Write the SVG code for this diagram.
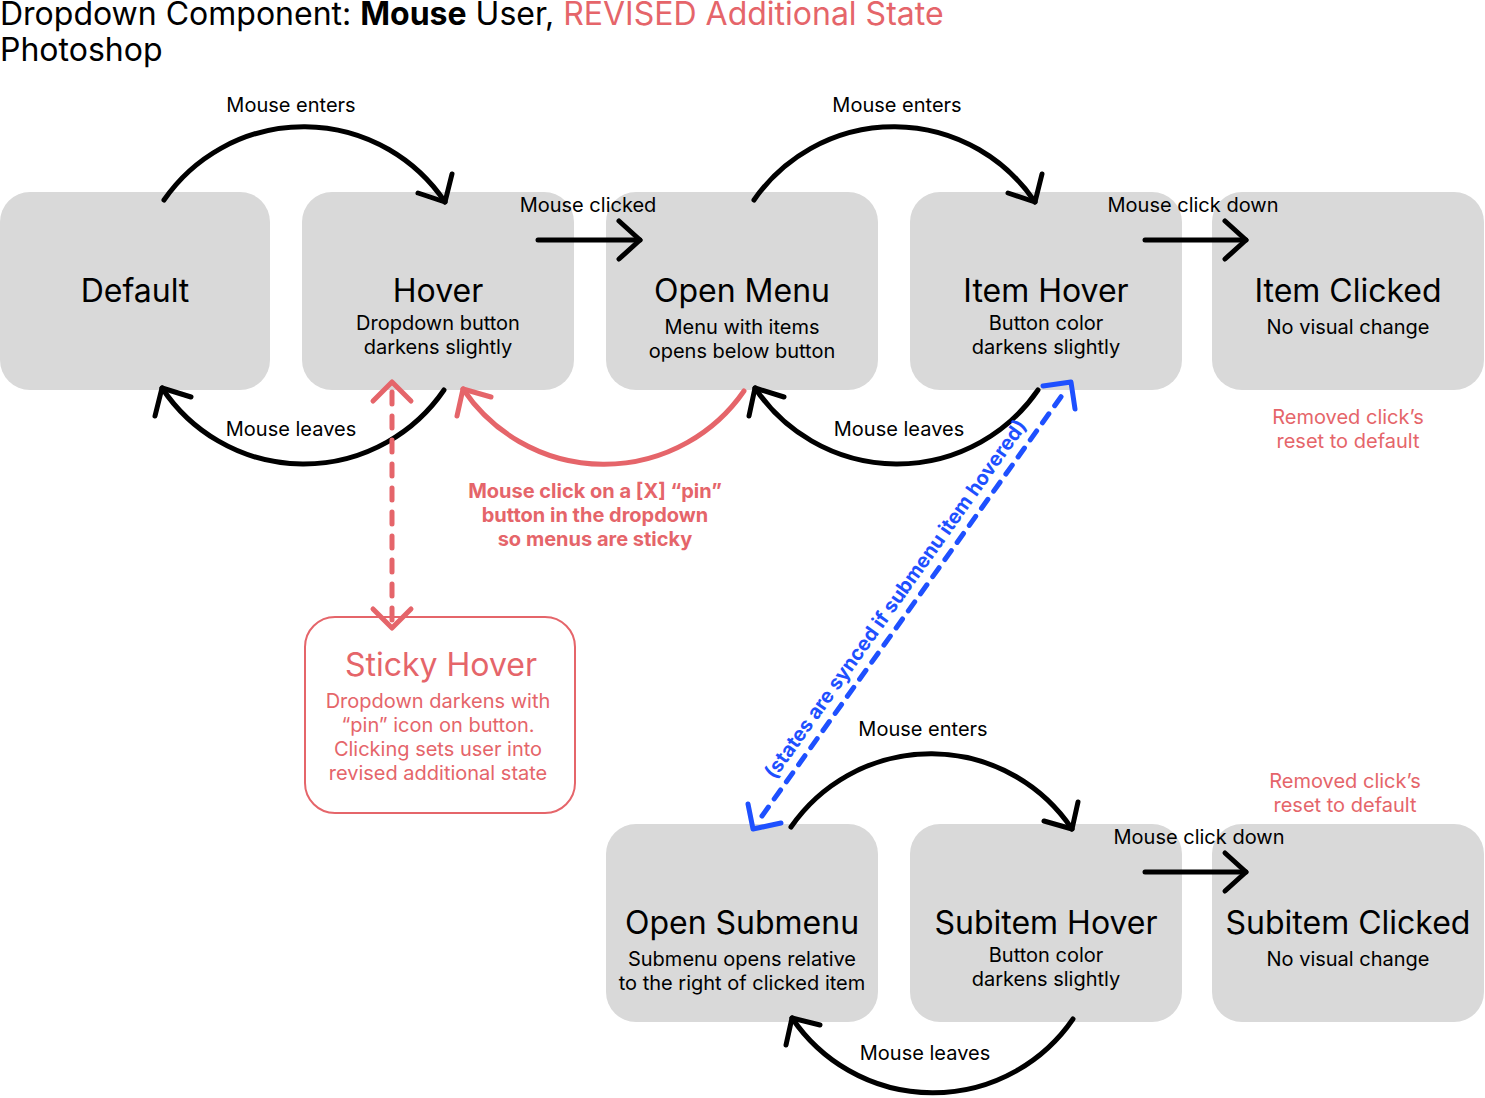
<svg xmlns="http://www.w3.org/2000/svg" width="1485" height="1098" viewBox="0 0 1485 1098">
<style>
text{font-family:Inter,"Liberation Sans","Noto Sans",sans-serif;fill:#000}
.box{fill:#D9D9D9}
.t{font-size:32px;text-anchor:middle}
.s{font-size:20px;text-anchor:middle}
.lbl{font-size:20px;text-anchor:middle}
.red{fill:#E5656A}
.blk{fill:none;stroke:#000;stroke-width:5;stroke-linecap:round;stroke-linejoin:round}
.rd{fill:none;stroke:#E5656A;stroke-width:5;stroke-linecap:round;stroke-linejoin:round}
.bl{fill:none;stroke:#1E50FF;stroke-width:5;stroke-linecap:round;stroke-linejoin:round}
</style>
<rect width="1485" height="1098" fill="#fff"/>
<g id="title">
<text x="0" y="25" style="font-size:32px">Dropdown Component: <tspan font-weight="700">Mouse</tspan> User, <tspan class="red">REVISED Additional State</tspan></text>
<text x="0" y="61" style="font-size:32px">Photoshop</text>
</g>
<g id="node-default"><rect class="box" x="0" y="192" width="270" height="198" rx="30"/><text class="t" x="135" y="302">Default</text></g>
<g id="node-hover"><rect class="box" x="302" y="192" width="272" height="198" rx="30"/><text class="t" x="438" y="302">Hover</text><text class="s" x="438" y="330">Dropdown button</text><text class="s" x="438" y="354">darkens slightly</text></g>
<g id="node-open-menu"><rect class="box" x="606" y="192" width="272" height="198" rx="30"/><text class="t" x="742" y="302">Open Menu</text><text class="s" x="742" y="334">Menu with items</text><text class="s" x="742" y="358">opens below button</text></g>
<g id="node-item-hover"><rect class="box" x="910" y="192" width="272" height="198" rx="30"/><text class="t" x="1046" y="302">Item Hover</text><text class="s" x="1046" y="330">Button color</text><text class="s" x="1046" y="354">darkens slightly</text></g>
<g id="node-item-clicked"><rect class="box" x="1212" y="192" width="272" height="198" rx="30"/><text class="t" x="1348" y="302">Item Clicked</text><text class="s" x="1348" y="334">No visual change</text></g>
<g id="node-open-submenu"><rect class="box" x="606" y="824" width="272" height="198" rx="30"/><text class="t" x="742" y="934">Open Submenu</text><text class="s" x="742" y="966">Submenu opens relative</text><text class="s" x="742" y="990">to the right of clicked item</text></g>
<g id="node-subitem-hover"><rect class="box" x="910" y="824" width="272" height="198" rx="30"/><text class="t" x="1046" y="934">Subitem Hover</text><text class="s" x="1046" y="962">Button color</text><text class="s" x="1046" y="986">darkens slightly</text></g>
<g id="node-subitem-clicked"><rect class="box" x="1212" y="824" width="272" height="198" rx="30"/><text class="t" x="1348" y="934">Subitem Clicked</text><text class="s" x="1348" y="966">No visual change</text></g>
<g id="node-sticky-hover"><rect x="305" y="617" width="270" height="196" rx="30" fill="#fff" stroke="#E5656A" stroke-width="2"/><text class="t red" x="441" y="676">Sticky Hover</text><text class="s red" x="438" y="708">Dropdown darkens with</text><text class="s red" x="438" y="732">“pin” icon on button.</text><text class="s red" x="438" y="756">Clicking sets user into</text><text class="s red" x="438" y="780">revised additional state</text></g>
<g id="connectors">
<path class="blk" d="M164,200 A170,170 0 0 1 445,202"/><polyline class="blk" points="452,174 445,202 418,193"/>
<path class="blk" d="M444,390 A170,170 0 0 1 162,388"/><polyline class="blk" points="155,416 162,388 191,397"/>
<path class="blk" d="M538,240 L640,240"/><polyline class="blk" points="619,221 640,240 619,259"/>
<path class="blk" d="M754,200 A170,170 0 0 1 1035,202"/><polyline class="blk" points="1042,174 1035,202 1008,193"/>
<path class="blk" d="M1038,390 A171,171 0 0 1 755,388"/><polyline class="blk" points="749,416 755,388 784,397"/>
<path class="blk" d="M1145,240 L1246,240"/><polyline class="blk" points="1225,221 1246,240 1225,259"/>
<path class="blk" d="M791,827 A170,170 0 0 1 1072,829"/><polyline class="blk" points="1078,802 1072,829 1044,821"/>
<path class="blk" d="M1073,1019 A170,170 0 0 1 792,1018"/><polyline class="blk" points="786,1045 792,1018 820,1025"/>
<path class="blk" d="M1145,872 L1246,872"/><polyline class="blk" points="1225,853 1246,872 1225,891"/>
<path class="rd" d="M744,391 A170,170 0 0 1 463,389"/><polyline class="rd" points="457,416 463,389 491,397"/>
<path class="rd" d="M392,392 L392,620" stroke-dasharray="12 12" stroke-linecap="butt"/><polyline class="rd" points="373,401 392,382 411,401"/><polyline class="rd" points="373,609 392,628 411,609"/>
<path class="bl" d="M762,816 L1063,394" stroke-dasharray="11 10" stroke-linecap="butt"/><polyline class="bl" points="1043,386 1071,382 1075,409"/><polyline class="bl" points="748,804 753,829 781,823"/>
</g>
<g id="labels">
<text class="lbl" x="291" y="112">Mouse enters</text>
<text class="lbl" x="588" y="212">Mouse clicked</text>
<text class="lbl" x="897" y="112">Mouse enters</text>
<text class="lbl" x="1193" y="212">Mouse click down</text>
<text class="lbl" x="291" y="436">Mouse leaves</text>
<text class="lbl" x="899" y="436">Mouse leaves</text>
<text class="lbl red" x="595" y="498" font-weight="700">Mouse click on a [X] “pin”</text>
<text class="lbl red" x="595" y="522" font-weight="700">button in the dropdown</text>
<text class="lbl red" x="595" y="546" font-weight="700">so menus are sticky</text>
<text class="lbl red" x="1348" y="424">Removed click’s</text>
<text class="lbl red" x="1348" y="448">reset to default</text>
<text class="lbl red" x="1345" y="788">Removed click’s</text>
<text class="lbl red" x="1345" y="812">reset to default</text>
<text class="lbl" x="923" y="736">Mouse enters</text>
<text class="lbl" x="1199" y="844">Mouse click down</text>
<text class="lbl" x="925" y="1060">Mouse leaves</text>
<text class="lbl" font-weight="700" style="fill:#1E50FF" transform="translate(901,603) rotate(-54.5)">(states are synced if submenu item hovered)</text>
</g>
</svg>
